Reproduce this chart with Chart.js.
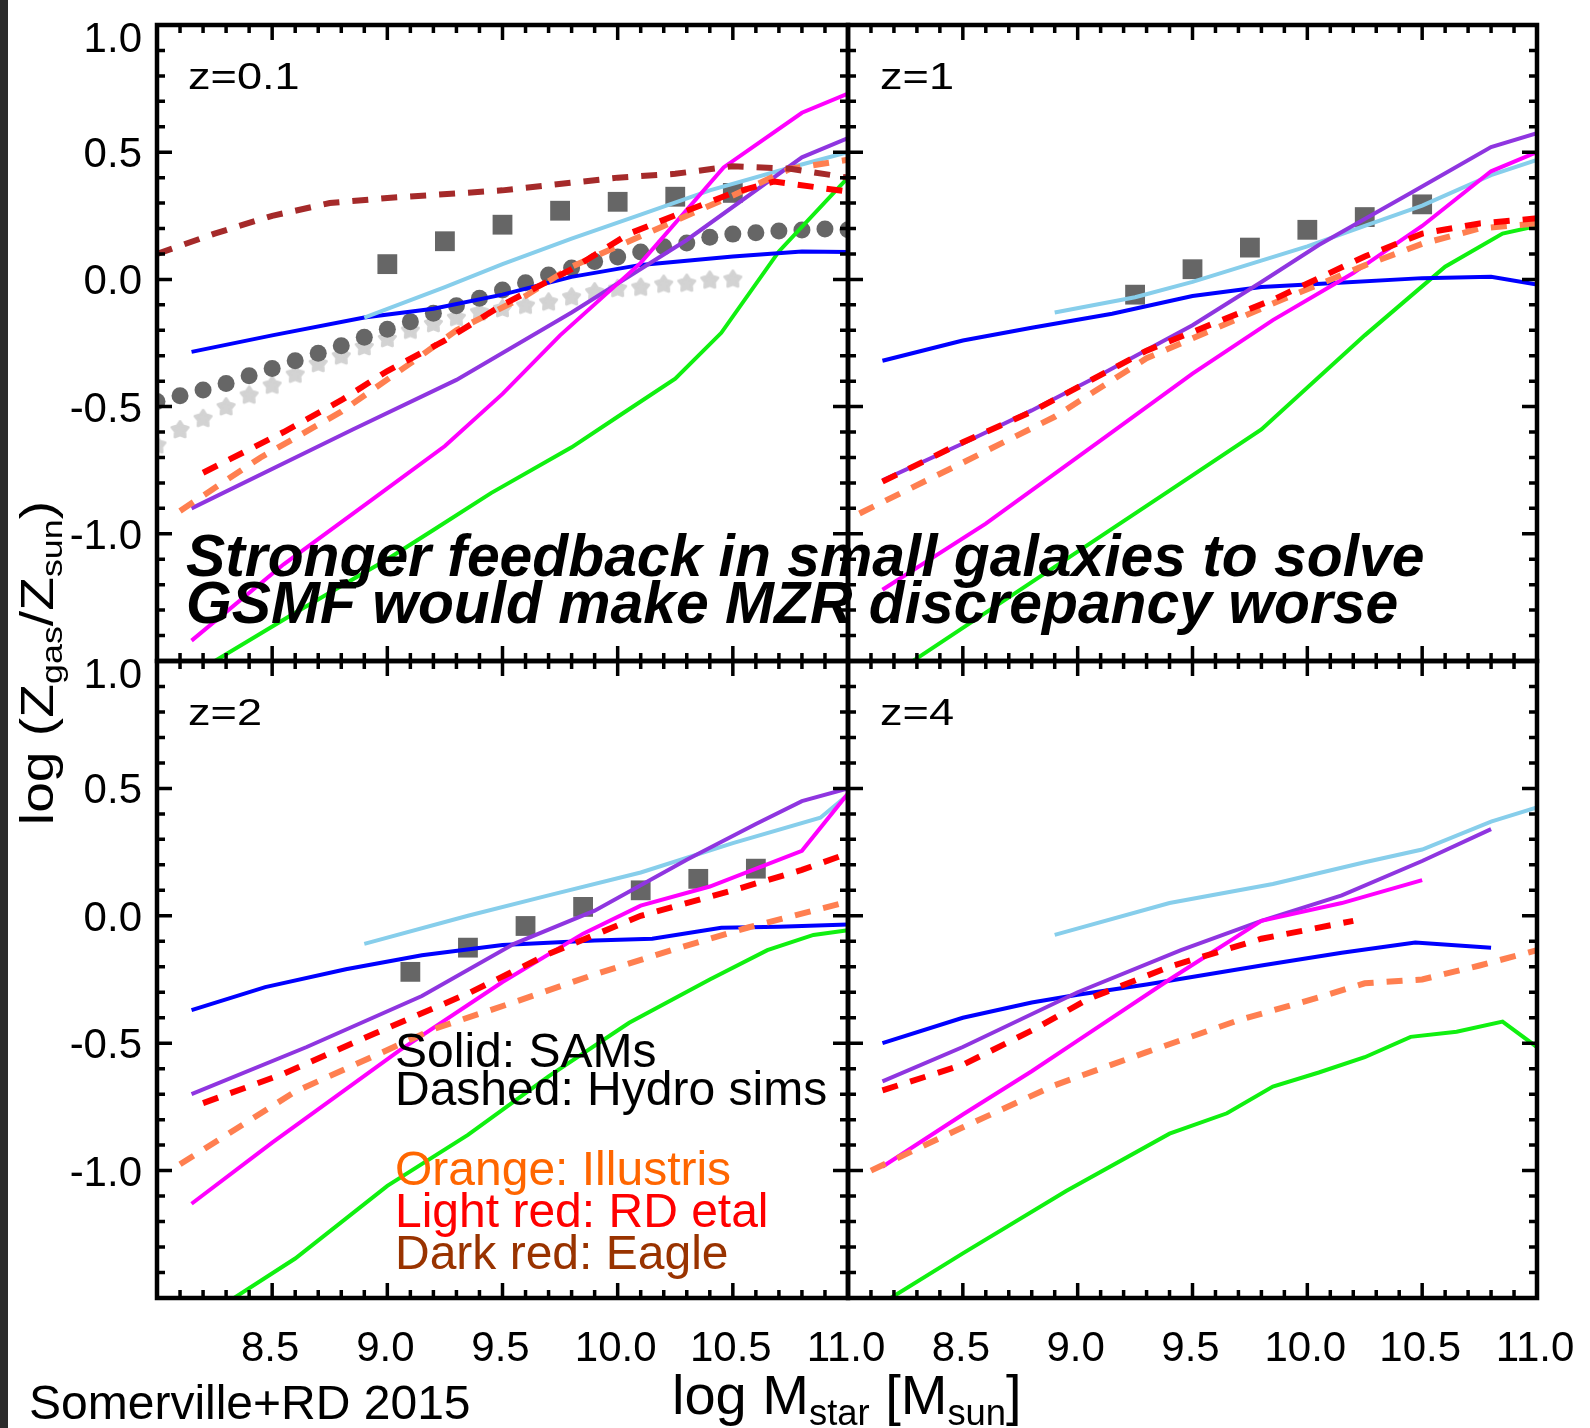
<!DOCTYPE html>
<html>
<head>
<meta charset="utf-8">
<title>Gas-phase mass-metallicity relation</title>
<script src="https://cdn.jsdelivr.net/npm/chart.js"></script>
<style>
    body {
        margin: 0;
        background-color: #ffffff;
    }

    #wrap {
        position: relative;
        width: 1590px;
        height: 1428px;
        overflow: hidden;
        background-color: #ffffff;
        font-family: "Liberation Sans", Arial, sans-serif;
    }

    #wrap canvas {
        position: absolute;
        left: 0;
        top: 0;
    }

    .txt {
        position: absolute;
        white-space: nowrap;
        color: #000;
    }

    .zlab {
        font-size: 37px;
        line-height: 37px;
        transform: scaleX(1.22);
        transform-origin: left center;
    }

    .note {
        font-size: 58.8px;
        line-height: 58.8px;
        font-weight: bold;
        font-style: italic;
    }

    .legend {
        font-size: 48px;
        line-height: 48px;
    }

    .sub {
        font-size: 0.65em;
        position: relative;
        top: 0.3em;
    }

    #strip {
        position: absolute;
        left: 0;
        top: 0;
        width: 8px;
        height: 1428px;
        background-color: #2b2b2b;
    }
</style>
</head>
<body>
<div id="wrap">
    <canvas id="pz01" width="1590" height="1428"></canvas>
    <canvas id="pz1" width="1590" height="1428"></canvas>
    <canvas id="pz2" width="1590" height="1428"></canvas>
    <canvas id="pz4" width="1590" height="1428"></canvas>

    <div id="strip"></div>

    <!-- redshift labels -->
    <div class="txt zlab" style="left:188px; top:58px;">z=0.1</div>
    <div class="txt zlab" style="left:880px; top:58px;">z=1</div>
    <div class="txt zlab" style="left:188px; top:694px;">z=2</div>
    <div class="txt zlab" style="left:880px; top:694px;">z=4</div>

    <!-- overlay note -->
    <div class="txt note" style="left:186px; top:527px;">Stronger feedback in small galaxies to solve</div>
    <div class="txt note" style="left:186px; top:574px;">GSMF would make MZR discrepancy worse</div>

    <!-- legend text -->
    <div class="txt legend" style="left:395px; top:1027px;">Solid: SAMs</div>
    <div class="txt legend" style="left:395px; top:1065px;">Dashed: Hydro sims</div>
    <div class="txt legend" style="left:395px; top:1145px; color:#ff6600;">Orange: Illustris</div>
    <div class="txt legend" style="left:395px; top:1187px; color:#ff0000;">Light red: RD etal</div>
    <div class="txt legend" style="left:395px; top:1229px; color:#993300;">Dark red: Eagle</div>

    <div class="txt legend" style="left:29px; top:1379px;">Somerville+RD 2015</div>

    <!-- axis titles -->
    <div class="txt" style="left:672px; top:1367px; font-size:56px; line-height:56px;">log M<span class="sub">star</span> [M<span class="sub">sun</span>]</div>
    <div class="txt" style="left:-160px; top:637px; width:400px; text-align:center; font-size:46px; line-height:46px; transform:rotate(-90deg) scaleX(1.2);">log (Z<span class="sub">gas</span>/Z<span class="sub">sun</span>)</div>
</div>

<script>
    // axis ticks and labels
    const xTickValues = [8.5, 9.0, 9.5, 10.0, 10.5, 11.0];
    const xTickLabels = ['8.5', '9.0', '9.5', '10.0', '10.5', '11.0'];
    const yTickValues = [1.0, 0.5, 0.0, -0.5, -1.0];
    const yTickLabels = ['1.0', '0.5', '0.0', '-0.5', '-1.0'];

    // ---- z = 0.1 ----
    const z01Blue = [[8.15,-0.285],[8.5,-0.22],[8.9,-0.15],[9.2,-0.115],[9.5,-0.06],[9.8,0.01],[10.1,0.057],[10.5,0.09],[10.8,0.11],[11.0,0.108]];
    const z01Sky = [[8.9,-0.15],[9.25,-0.03],[9.5,0.06],[9.8,0.16],[10.1,0.255],[10.4,0.35],[10.75,0.44],[11.0,0.50]];
    const z01Purple = [[8.15,-0.90],[8.85,-0.59],[9.3,-0.395],[9.8,-0.13],[10.3,0.155],[10.8,0.48],[11.0,0.555]];
    const z01Magenta = [[8.15,-1.42],[8.55,-1.12],[8.95,-0.855],[9.25,-0.655],[9.5,-0.45],[9.75,-0.22],[10.1,0.065],[10.46,0.44],[10.8,0.655],[11.0,0.73]];
    const z01Green = [[8.15,-1.555],[8.6,-1.31],[9.0,-1.10],[9.2,-0.985],[9.45,-0.84],[9.8,-0.66],[10.0,-0.54],[10.25,-0.39],[10.45,-0.21],[10.7,0.11],[11.0,0.40]];
    const z01Red = [[8.2,-0.76],[8.55,-0.60],[8.8,-0.475],[9.0,-0.36],[9.25,-0.24],[9.5,-0.10],[9.8,0.04],[10.05,0.18],[10.3,0.27],[10.5,0.34],[10.68,0.385],[11.0,0.345]];
    const z01Orange = [[8.1,-0.91],[8.45,-0.70],[8.8,-0.52],[9.1,-0.33],[9.3,-0.20],[9.6,-0.065],[9.8,0.05],[10.2,0.21],[10.5,0.33],[10.75,0.435],[11.0,0.47]];
    const z01DarkRed = [[8.0,0.10],[8.25,0.18],[8.5,0.25],[8.75,0.30],[9.0,0.32],[9.5,0.35],[10.0,0.40],[10.25,0.415],[10.5,0.445],[10.75,0.435],[11.0,0.40]];
    const z01Squares = [[9.0,0.06],[9.25,0.15],[9.5,0.215],[9.75,0.27],[10.0,0.305],[10.25,0.325],[10.5,0.34]];
    const z01Circles = [[8.0,-0.48],[8.1,-0.457],[8.2,-0.435],[8.3,-0.409],[8.4,-0.379],[8.5,-0.35],[8.6,-0.32],[8.7,-0.29],
        [8.8,-0.261],[8.9,-0.227],[9.0,-0.196],[9.1,-0.166],[9.2,-0.133],[9.3,-0.104],[9.4,-0.074],[9.5,-0.042],
        [9.6,-0.013],[9.7,0.017],[9.8,0.045],[9.9,0.07],[10.0,0.088],[10.1,0.108],[10.2,0.128],[10.3,0.143],
        [10.4,0.166],[10.5,0.178],[10.6,0.183],[10.7,0.19],[10.8,0.194],[10.9,0.198],[11.0,0.195]];
    const z01Stars = [[8.0,-0.65],[8.1,-0.59],[8.2,-0.546],[8.3,-0.50],[8.4,-0.454],[8.5,-0.415],[8.6,-0.372],[8.7,-0.33],
        [8.8,-0.30],[8.9,-0.264],[9.0,-0.232],[9.1,-0.199],[9.2,-0.173],[9.3,-0.149],[9.4,-0.127],[9.5,-0.114],
        [9.6,-0.101],[9.7,-0.088],[9.8,-0.068],[9.9,-0.048],[10.0,-0.035],[10.1,-0.03],[10.2,-0.018],[10.3,-0.014],
        [10.4,-0.002],[10.5,0.002]];

    // ---- z = 1 ----
    const z1Blue = [[8.15,-0.32],[8.5,-0.24],[8.8,-0.19],[9.15,-0.135],[9.5,-0.065],[9.8,-0.03],[10.1,-0.015],[10.5,0.005],[10.8,0.01],[11.0,-0.02]];
    const z1Sky = [[8.9,-0.13],[9.25,-0.07],[9.5,-0.01],[9.75,0.06],[10.0,0.13],[10.25,0.21],[10.5,0.29],[10.8,0.41],[11.0,0.47]];
    const z1Purple = [[8.15,-0.79],[8.5,-0.645],[8.8,-0.515],[9.1,-0.375],[9.5,-0.18],[9.8,-0.01],[10.05,0.135],[10.45,0.34],[10.8,0.52],[11.0,0.575]];
    const z1Magenta = [[8.15,-1.22],[8.6,-0.96],[9.15,-0.60],[9.5,-0.37],[9.85,-0.16],[10.2,0.025],[10.5,0.21],[10.8,0.425],[11.0,0.50]];
    const z1Green = [[8.15,-1.58],[8.3,-1.49],[8.8,-1.19],[9.4,-0.83],[9.8,-0.59],[10.25,-0.22],[10.6,0.05],[10.85,0.18],[11.0,0.21]];
    const z1Red = [[8.15,-0.795],[8.5,-0.64],[8.8,-0.52],[9.3,-0.28],[9.6,-0.17],[9.85,-0.08],[10.25,0.09],[10.5,0.18],[10.75,0.22],[11.0,0.24]];
    const z1Orange = [[8.05,-0.92],[8.5,-0.72],[8.9,-0.54],[9.3,-0.31],[9.85,-0.095],[10.25,0.055],[10.5,0.14],[10.75,0.20],[11.0,0.22]];
    const z1Squares = [[9.25,-0.06],[9.5,0.04],[9.75,0.125],[10.0,0.195],[10.25,0.245],[10.5,0.295]];

    // ---- z = 2 ----
    const z2Blue = [[8.15,-0.37],[8.47,-0.28],[8.82,-0.21],[9.15,-0.155],[9.5,-0.115],[9.9,-0.097],[10.15,-0.09],[10.45,-0.047],[10.7,-0.043],[11.0,-0.034]];
    const z2Sky = [[8.9,-0.11],[9.35,0.0],[9.7,0.08],[10.1,0.17],[10.5,0.285],[10.88,0.385],[11.0,0.475]];
    const z2Purple = [[8.15,-0.70],[8.65,-0.515],[9.15,-0.315],[9.55,-0.11],[9.9,0.02],[10.3,0.22],[10.6,0.36],[10.8,0.45],[11.0,0.50]];
    const z2Magenta = [[8.15,-1.13],[8.5,-0.89],[9.05,-0.53],[9.5,-0.26],[9.85,-0.07],[10.1,0.04],[10.4,0.115],[10.8,0.255],[11.0,0.48]];
    const z2Green = [[8.15,-1.62],[8.3,-1.52],[8.6,-1.345],[9.0,-1.06],[9.35,-0.86],[9.7,-0.63],[10.05,-0.42],[10.4,-0.25],[10.65,-0.135],[10.85,-0.075],[11.0,-0.057]];
    const z2Red = [[8.2,-0.735],[8.55,-0.62],[8.95,-0.46],[9.35,-0.305],[9.7,-0.15],[10.1,0.0],[10.5,0.10],[10.8,0.18],[11.0,0.245]];
    const z2Orange = [[8.1,-0.975],[8.6,-0.69],[9.2,-0.445],[9.58,-0.33],[9.9,-0.23],[10.25,-0.13],[10.57,-0.045],[11.0,0.055]];
    const z2Squares = [[9.1,-0.22],[9.35,-0.125],[9.6,-0.04],[9.85,0.035],[10.1,0.10],[10.35,0.145],[10.6,0.185]];

    // ---- z = 4 ----
    const z4Blue = [[8.15,-0.50],[8.5,-0.40],[8.8,-0.34],[9.0,-0.31],[9.3,-0.27],[9.8,-0.195],[10.15,-0.145],[10.47,-0.105],[10.8,-0.125]];
    const z4Sky = [[8.9,-0.075],[9.4,0.05],[9.85,0.125],[10.25,0.21],[10.5,0.26],[10.8,0.37],[11.0,0.425]];
    const z4Purple = [[8.15,-0.65],[8.5,-0.515],[9.0,-0.30],[9.45,-0.135],[9.8,-0.02],[10.15,0.08],[10.5,0.215],[10.8,0.34]];
    const z4Magenta = [[8.15,-0.985],[8.5,-0.78],[8.8,-0.61],[9.0,-0.49],[9.4,-0.25],[9.8,-0.02],[10.15,0.05],[10.5,0.14]];
    const z4Green = [[8.15,-1.52],[8.5,-1.325],[8.95,-1.08],[9.4,-0.855],[9.65,-0.775],[9.85,-0.67],[10.05,-0.615],[10.25,-0.555],[10.45,-0.475],[10.65,-0.455],[10.85,-0.415],[11.0,-0.515]];
    const z4Red = [[8.15,-0.685],[8.5,-0.585],[8.8,-0.45],[9.05,-0.325],[9.4,-0.20],[9.8,-0.09],[10.2,-0.02]];
    const z4Orange = [[8.1,-1.0],[8.5,-0.83],[8.9,-0.665],[9.3,-0.535],[9.7,-0.41],[10.05,-0.32],[10.25,-0.265],[10.5,-0.25],[10.75,-0.195],[11.0,-0.135]];

    // colours
    const BLUE = '#0000ff', SKY = '#87ceeb', PURPLE = '#8f35e0', MAGENTA = '#ff00ff', GREEN = '#10f010';
    const RED = '#ff0000', ORANGE = '#ff7f50', DARKRED = '#a52a2a';
    const SQUARE = '#666666', CIRCLE = '#666666', STAR = '#d3d3d3';

    // filled star marker for the z=0.1 panel
    function makeStar(size, color) {
        const c = document.createElement('canvas');
        c.width = size;
        c.height = size;
        const g = c.getContext('2d');
        const cx = size / 2, cy = size / 2 + 0.5, r1 = size / 2 - 2, r2 = r1 * 0.58;
        g.beginPath();
        for (let i = 0; i < 10; i++) {
            const r = i % 2 ? r2 : r1;
            const a = -Math.PI / 2 + i * Math.PI / 5;
            g.lineTo(cx + r * Math.cos(a), cy + r * Math.sin(a));
        }
        g.closePath();
        g.fillStyle = color;
        g.strokeStyle = color;
        g.lineJoin = 'round';
        g.lineWidth = 3;
        g.fill();
        g.stroke();
        return c;
    }
    const starImg = makeStar(21, STAR);

    function toXY(pts) {
        return pts.map(p => ({ x: p[0], y: p[1] }));
    }

    function line(pts, color, dashed) {
        return {
            data: toXY(pts),
            showLine: true,
            borderColor: color,
            borderWidth: dashed ? 6 : 4,
            borderDash: dashed ? [16, 13] : [],
            pointRadius: 0,
            tension: 0,
            clip: 0
        };
    }

    function markers(pts, style, color, radius) {
        return {
            data: toXY(pts),
            showLine: false,
            pointStyle: style,
            pointRadius: radius,
            pointBackgroundColor: color,
            pointBorderWidth: 0,
            borderColor: color,
            clip: 0
        };
    }

    // frame with inward major/minor ticks on all four sides, plus tick labels
    const framePlugin = {
        id: 'frame',
        afterDatasetsDraw(chart, args, opts) {
            const ctx = chart.ctx;
            const a = chart.chartArea;
            const xs = chart.scales.x, ys = chart.scales.y;
            ctx.save();
            ctx.strokeStyle = '#000';
            ctx.lineWidth = 3.5;
            ctx.beginPath();
            for (let i = 0; i <= 30; i++) {
                const px = xs.getPixelForValue(8 + i / 10);
                const len = i % 5 === 0 ? 15 : 8;
                ctx.moveTo(px, a.bottom);
                ctx.lineTo(px, a.bottom - len);
                ctx.moveTo(px, a.top);
                ctx.lineTo(px, a.top + len);
            }
            for (let i = -15; i <= 10; i++) {
                const py = ys.getPixelForValue(i / 10);
                const len = i % 5 === 0 ? 15 : 8;
                ctx.moveTo(a.left, py);
                ctx.lineTo(a.left + len, py);
                ctx.moveTo(a.right, py);
                ctx.lineTo(a.right - len, py);
            }
            ctx.stroke();
            ctx.lineWidth = 4.5;
            ctx.strokeRect(a.left, a.top, a.right - a.left, a.bottom - a.top);

            ctx.fillStyle = '#000';
            ctx.font = '42px "Liberation Sans", Arial, sans-serif';
            if (opts.yLabels) {
                ctx.textAlign = 'right';
                ctx.textBaseline = 'alphabetic';
                yTickValues.forEach((v, k) => {
                    const py = ys.getPixelForValue(v) + 15 + (k === 0 ? 12 : 0);
                    ctx.fillText(yTickLabels[k], a.left - 15, py);
                });
            }
            if (opts.xLabels) {
                ctx.textAlign = 'center';
                ctx.textBaseline = 'alphabetic';
                xTickValues.forEach((v, k) => {
                    ctx.fillText(xTickLabels[k], xs.getPixelForValue(v) - 2, 1361);
                });
            }
            ctx.restore();
        }
    };

    const panels = [
        {
            id: 'pz01', rect: [157, 25, 848, 661], yLabels: true, xLabels: false,
            datasets: [
                line(z01DarkRed, DARKRED, true),
                line(z01Red, RED, true),
                line(z01Orange, ORANGE, true),
                line(z01Magenta, MAGENTA, false),
                line(z01Purple, PURPLE, false),
                line(z01Sky, SKY, false),
                line(z01Blue, BLUE, false),
                line(z01Green, GREEN, false),
                markers(z01Squares, 'rect', SQUARE, 14),
                markers(z01Circles, 'circle', CIRCLE, 8.5),
                markers(z01Stars, starImg, STAR, 10)
            ]
        },
        {
            id: 'pz1', rect: [848, 25, 1537, 661], yLabels: false, xLabels: false,
            datasets: [
                line(z1Red, RED, true),
                line(z1Orange, ORANGE, true),
                line(z1Magenta, MAGENTA, false),
                line(z1Purple, PURPLE, false),
                line(z1Sky, SKY, false),
                line(z1Blue, BLUE, false),
                line(z1Green, GREEN, false),
                markers(z1Squares, 'rect', SQUARE, 14)
            ]
        },
        {
            id: 'pz2', rect: [157, 661, 848, 1298], yLabels: true, xLabels: true,
            datasets: [
                line(z2Red, RED, true),
                line(z2Orange, ORANGE, true),
                line(z2Magenta, MAGENTA, false),
                line(z2Purple, PURPLE, false),
                line(z2Sky, SKY, false),
                line(z2Blue, BLUE, false),
                line(z2Green, GREEN, false),
                markers(z2Squares, 'rect', SQUARE, 14)
            ]
        },
        {
            id: 'pz4', rect: [848, 661, 1537, 1298], yLabels: false, xLabels: true,
            datasets: [
                line(z4Red, RED, true),
                line(z4Orange, ORANGE, true),
                line(z4Magenta, MAGENTA, false),
                line(z4Purple, PURPLE, false),
                line(z4Sky, SKY, false),
                line(z4Blue, BLUE, false),
                line(z4Green, GREEN, false)
            ]
        }
    ];

    panels.forEach(p => {
        const r = p.rect;
        new Chart(document.getElementById(p.id), {
            type: 'scatter',
            data: { datasets: p.datasets },
            options: {
                responsive: false,
                animation: false,
                events: [],
                layout: {
                    padding: { left: r[0], top: r[1], right: 1590 - r[2], bottom: 1428 - r[3] }
                },
                scales: {
                    x: { type: 'linear', min: 8.0, max: 11.0, display: false },
                    y: { type: 'linear', min: -1.5, max: 1.0, display: false }
                },
                plugins: {
                    legend: { display: false },
                    tooltip: { enabled: false },
                    frame: { xLabels: p.xLabels, yLabels: p.yLabels }
                }
            },
            plugins: [framePlugin]
        });
    });
</script>
</body>
</html>
